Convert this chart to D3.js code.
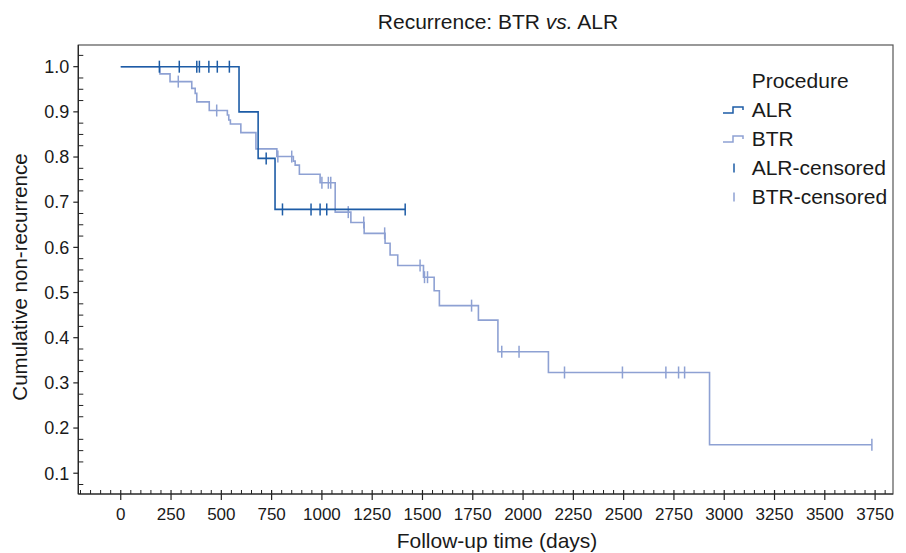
<!DOCTYPE html>
<html>
<head>
<meta charset="utf-8">
<script src="https://cdn.jsdelivr.net/npm/d3@7"></script>
<style>
  html, body { margin: 0; padding: 0; background: #fff; }
  svg text { font-family: "Liberation Sans", Arial, Helvetica, sans-serif; fill: #1a1a1a; }
</style>
</head>
<body>
<svg id="chart" width="906" height="553"></svg>
<script>
// ---------------- data ----------------
const titleMain = "Recurrence: BTR ";
const titleItalic = "vs.";
const titleEnd = " ALR";
const xTitle = "Follow-up time (days)";
const yTitle = "Cumulative non-recurrence";
const legendTitle = "Procedure";
const legendLabels = ["ALR", "BTR", "ALR-censored", "BTR-censored"];

const xTickValues = [0, 250, 500, 750, 1000, 1250, 1500, 1750, 2000, 2250, 2500, 2750, 3000, 3250, 3500, 3750];
const yTickValues = [0.1, 0.2, 0.3, 0.4, 0.5, 0.6, 0.7, 0.8, 0.9, 1.0];

// ALR Kaplan-Meier: event times and survival after each event
const alrTimes = [588, 683, 767];
const alrSurv  = [0.900, 0.797, 0.684];
const alrCensor = [192, 291, 378, 391, 438, 480, 540, 723, 804, 946, 991, 1024, 1414];
const alrEnd = 1414;

// BTR Kaplan-Meier
const btrTimes = [195, 245, 353, 370, 378, 440, 530, 537, 545, 597, 672, 776, 858, 867, 888, 991, 1066, 1144, 1210, 1314, 1339, 1377, 1505, 1558, 1584, 1778, 1875, 2126, 2927];
const btrSurv  = [0.984, 0.967, 0.952, 0.941, 0.922, 0.903, 0.893, 0.882, 0.873, 0.854, 0.818, 0.801, 0.791, 0.782, 0.762, 0.743, 0.678, 0.655, 0.631, 0.609, 0.583, 0.560, 0.534, 0.504, 0.471, 0.439, 0.369, 0.323, 0.163];
const btrCensor = [286, 477, 781, 850, 1000, 1032, 1044, 1131, 1208, 1312, 1488, 1510, 1525, 1744, 1894, 1980, 2206, 2494, 2710, 2773, 2803, 3734];
const btrEnd = 3734;

// ---------------- layout ----------------
const colALR = "#1d5ca6";
const colBTR = "#8ea1d3";
const pLeft = 78.3, pRight = 893, pTop = 45, pBottom = 494;

const svg = d3.select("#chart");
svg.append("rect").attr("width", 906).attr("height", 553).attr("fill", "#fff");

const x = d3.scaleLinear().domain([-211, 3839]).range([pLeft, pRight]);
const y = d3.scaleLinear().domain([0.054, 1.048]).range([pBottom, pTop]);

// frame
svg.append("rect")
  .attr("x", pLeft).attr("y", pTop)
  .attr("width", pRight - pLeft).attr("height", pBottom - pTop)
  .attr("fill", "none").attr("stroke", "#555").attr("stroke-width", 1.2);

// x axis
const xMinor = d3.range(-200, 3801, 50).filter(v => v % 250 !== 0);
const gx = svg.append("g").attr("transform", `translate(0,${pBottom})`);
gx.append("line").attr("x1", pLeft).attr("x2", pRight).attr("stroke", "#222").attr("stroke-width", 1.2);
gx.selectAll("line.minor").data(xMinor).join("line").attr("class", "minor")
  .attr("x1", d => x(d)).attr("x2", d => x(d)).attr("y1", 0).attr("y2", -4)
  .attr("stroke", "#222").attr("stroke-width", 1);
gx.selectAll("line.major").data(xTickValues).join("line").attr("class", "major")
  .attr("x1", d => x(d)).attr("x2", d => x(d)).attr("y1", -4).attr("y2", 6)
  .attr("stroke", "#222").attr("stroke-width", 1.2);
gx.selectAll("text").data(xTickValues).join("text")
  .attr("x", d => x(d)).attr("y", 25.5)
  .attr("text-anchor", "middle").attr("font-size", "17px")
  .text(d => d);

// y axis
const yMinor = d3.range(0.075, 1.03, 0.025).filter(v => Math.abs(v * 10 - Math.round(v * 10)) > 0.01);
const gy = svg.append("g").attr("transform", `translate(${pLeft},0)`);
gy.append("line").attr("y1", pTop).attr("y2", pBottom).attr("stroke", "#222").attr("stroke-width", 1.2);
gy.selectAll("line.minor").data(yMinor).join("line").attr("class", "minor")
  .attr("y1", d => y(d)).attr("y2", d => y(d)).attr("x1", 0).attr("x2", 5)
  .attr("stroke", "#222").attr("stroke-width", 1);
gy.selectAll("line.major").data(yTickValues).join("line").attr("class", "major")
  .attr("y1", d => y(d)).attr("y2", d => y(d)).attr("x1", -5).attr("x2", 0)
  .attr("stroke", "#222").attr("stroke-width", 1.2);
gy.selectAll("text").data(yTickValues).join("text")
  .attr("x", -9).attr("y", d => y(d)).attr("dy", "0.35em")
  .attr("text-anchor", "end").attr("font-size", "18px")
  .text(d => d3.format(".1f")(d));

// titles
const t = svg.append("text").attr("x", 498).attr("y", 29).attr("text-anchor", "middle").attr("font-size", "21px");
t.append("tspan").text(titleMain);
t.append("tspan").attr("font-style", "italic").text(titleItalic);
t.append("tspan").text(titleEnd);

svg.append("text").attr("x", 497).attr("y", 548).attr("text-anchor", "middle")
  .attr("font-size", "21px").text(xTitle);
svg.append("text").attr("transform", "translate(26.5,277) rotate(-90)")
  .attr("text-anchor", "middle").attr("font-size", "20.5px").text(yTitle);

// KM curves
function kmPoints(times, surv, end) {
  const pts = [[0, 1]];
  times.forEach((tt, i) => pts.push([tt, surv[i]]));
  pts.push([end, surv[surv.length - 1]]);
  return pts;
}
function survAt(times, surv, tt) {
  let s = 1;
  times.forEach((ti, i) => { if (ti <= tt) s = surv[i]; });
  return s;
}
const line = d3.line().x(d => x(d[0])).y(d => y(d[1])).curve(d3.curveStepAfter);

const groups = [
  { times: btrTimes, surv: btrSurv, censor: btrCensor, end: btrEnd, color: colBTR, w: 1.6 },
  { times: alrTimes, surv: alrSurv, censor: alrCensor, end: alrEnd, color: colALR, w: 1.6 }
];
groups.forEach(g => {
  svg.append("path").attr("d", line(kmPoints(g.times, g.surv, g.end)))
    .attr("fill", "none").attr("stroke", g.color).attr("stroke-width", g.w);
  svg.selectAll(null).data(g.censor).join("line")
    .attr("x1", d => x(d)).attr("x2", d => x(d))
    .attr("y1", d => y(survAt(g.times, g.surv, d)) - 6)
    .attr("y2", d => y(survAt(g.times, g.surv, d)) + 6)
    .attr("stroke", g.color).attr("stroke-width", 1.5);
});

// legend
const lx = 751.7;
svg.append("text").attr("x", lx).attr("y", 81).attr("dy", "0.35em").attr("font-size", "21px").text(legendTitle);
const legY = [110, 139, 168, 197];
const legCol = [colALR, colBTR, colALR, colBTR];
legendLabels.forEach((lab, i) => {
  const cy = legY[i];
  if (i < 2) {
    svg.append("path")
      .attr("d", `M723,${cy + 3}H733V${cy - 3}H743V${cy}`)
      .attr("fill", "none").attr("stroke", legCol[i]).attr("stroke-width", 1.5);
  } else {
    svg.append("line").attr("x1", 734).attr("x2", 734).attr("y1", cy - 4.5).attr("y2", cy + 4.5)
      .attr("stroke", legCol[i]).attr("stroke-width", 1.5);
  }
  svg.append("text").attr("x", lx).attr("y", cy).attr("dy", "0.35em").attr("font-size", "21px").text(lab);
});
</script>
</body>
</html>
